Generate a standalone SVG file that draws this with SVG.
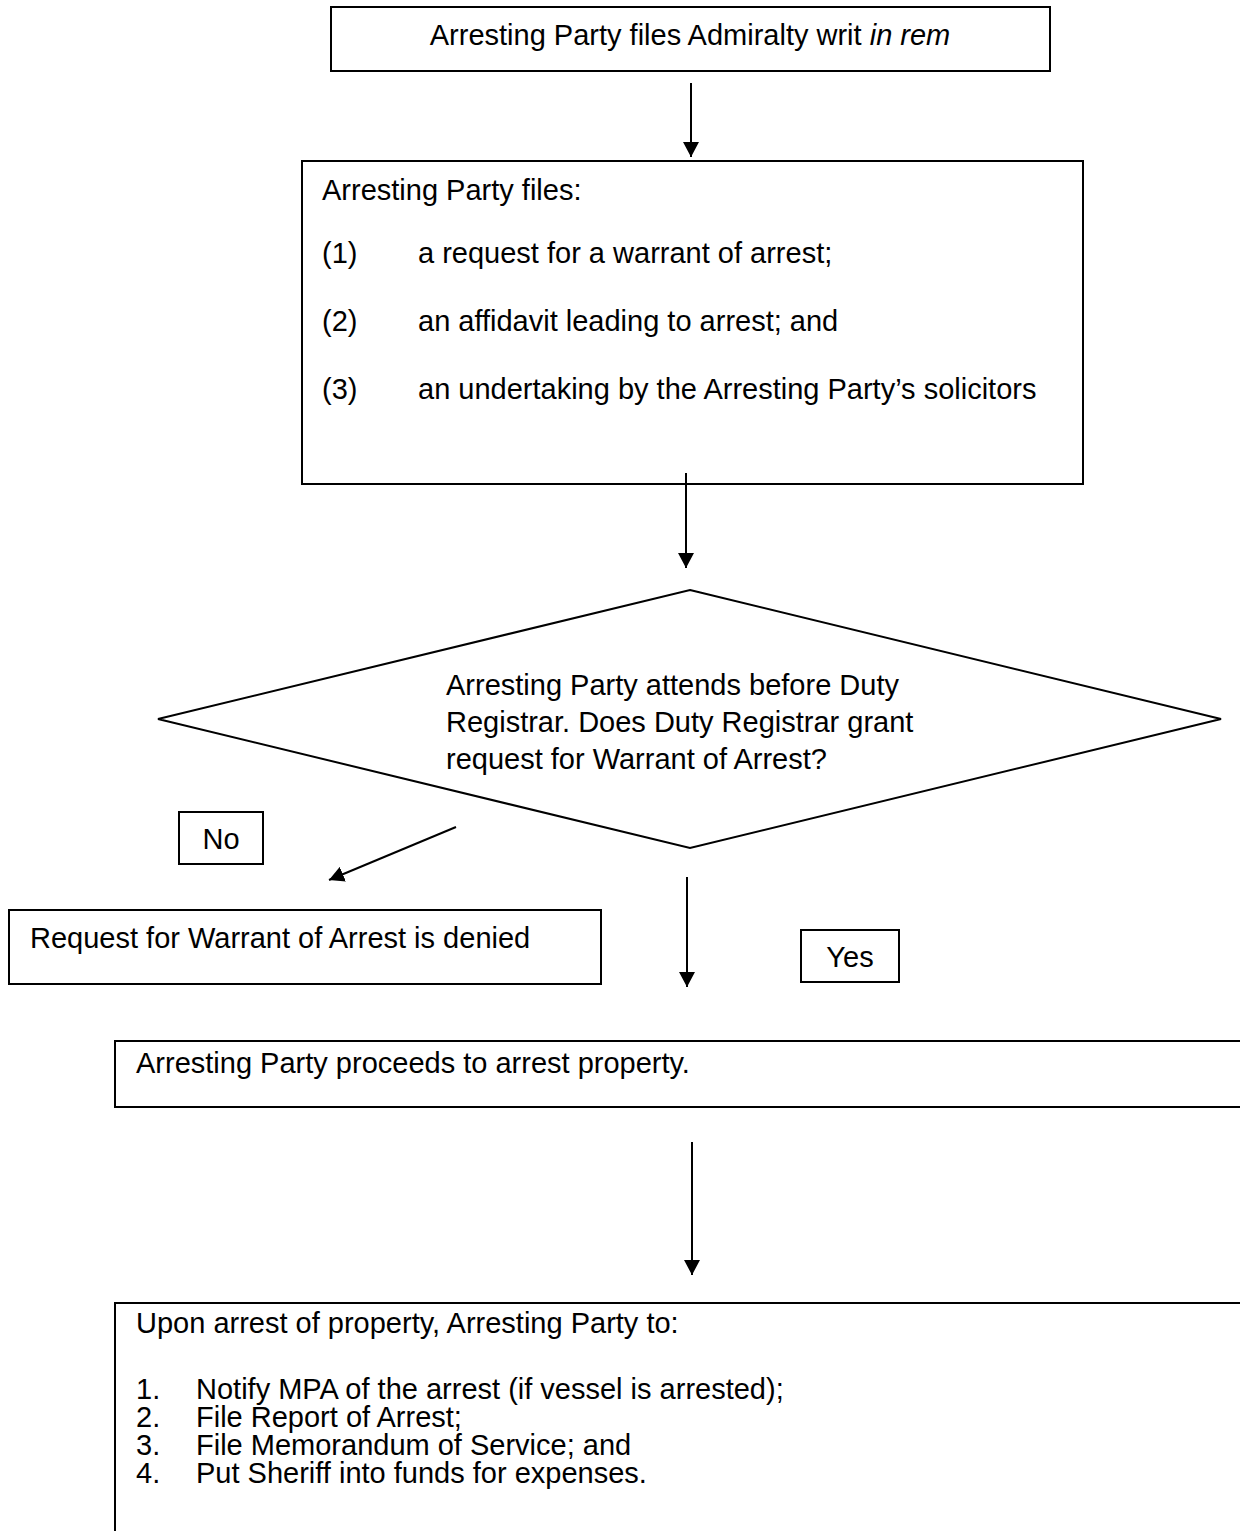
<svg xmlns="http://www.w3.org/2000/svg" width="1240" height="1531" viewBox="0 0 1240 1531">
<style>
.box{fill:#fff;stroke:#000;stroke-width:2}
.t{font-family:"Liberation Sans",Arial,sans-serif;font-size:29px;fill:#000}
.c{stroke:#000;stroke-width:2;fill:none}
</style>
<defs>
<marker id="ah" markerUnits="userSpaceOnUse" markerWidth="16" markerHeight="16" viewBox="0 0 16 16" refX="15" refY="8" orient="auto">
<path d="M0,0 L15,8 L0,16 Z" fill="#000"/>
</marker>
</defs>
<rect width="1240" height="1531" fill="#fff"/>
<g id="n1">
<rect class="box" x="331" y="7" width="719" height="64"/>
<text class="t" x="690" y="45" text-anchor="middle">Arresting Party files Admiralty writ <tspan font-style="italic">in rem</tspan></text>
</g>
<g id="n2">
<rect class="box" x="302" y="161" width="781" height="323"/>
<text class="t" x="322" y="200">Arresting Party files:</text>
<text class="t" x="322" y="263">(1)</text><text class="t" x="418" y="263">a request for a warrant of arrest;</text>
<text class="t" x="322" y="331">(2)</text><text class="t" x="418" y="331">an affidavit leading to arrest; and</text>
<text class="t" x="322" y="399">(3)</text><text class="t" x="418" y="399">an undertaking by the Arresting Party’s solicitors</text>
</g>
<g id="n3">
<polygon class="box" points="690,590 1221,719 690,848 158,719"/>
<text class="t" x="446" y="695">Arresting Party attends before Duty</text>
<text class="t" x="446" y="732">Registrar. Does Duty Registrar grant</text>
<text class="t" x="446" y="769">request for Warrant of Arrest?</text>
</g>
<g id="lblNo">
<rect class="box" x="179" y="812" width="84" height="52"/>
<text class="t" x="221" y="849" text-anchor="middle">No</text>
</g>
<g id="n4">
<rect class="box" x="9" y="910" width="592" height="74"/>
<text class="t" x="30" y="948">Request for Warrant of Arrest is denied</text>
</g>
<g id="lblYes">
<rect class="box" x="801" y="930" width="98" height="52"/>
<text class="t" x="850" y="967" text-anchor="middle">Yes</text>
</g>
<g id="n5">
<rect class="box" x="115" y="1041" width="1140" height="66"/>
<text class="t" x="136" y="1073">Arresting Party proceeds to arrest property.</text>
</g>
<g id="n6">
<rect class="box" x="115" y="1303" width="1140" height="240"/>
<text class="t" x="136" y="1333">Upon arrest of property, Arresting Party to:</text>
<text class="t" x="136" y="1399">1.</text><text class="t" x="196" y="1399">Notify MPA of the arrest (if vessel is arrested);</text>
<text class="t" x="136" y="1427">2.</text><text class="t" x="196" y="1427">File Report of Arrest;</text>
<text class="t" x="136" y="1455">3.</text><text class="t" x="196" y="1455">File Memorandum of Service; and</text>
<text class="t" x="136" y="1483">4.</text><text class="t" x="196" y="1483">Put Sheriff into funds for expenses.</text>
</g>
<g id="connectors">
<line class="c" x1="691" y1="83" x2="691" y2="157" marker-end="url(#ah)"/>
<line class="c" x1="686" y1="473" x2="686" y2="568" marker-end="url(#ah)"/>
<line class="c" x1="456" y1="827" x2="329" y2="880" marker-end="url(#ah)"/>
<line class="c" x1="687" y1="877" x2="687" y2="987" marker-end="url(#ah)"/>
<line class="c" x1="692" y1="1142" x2="692" y2="1275" marker-end="url(#ah)"/>
</g>
</svg>
